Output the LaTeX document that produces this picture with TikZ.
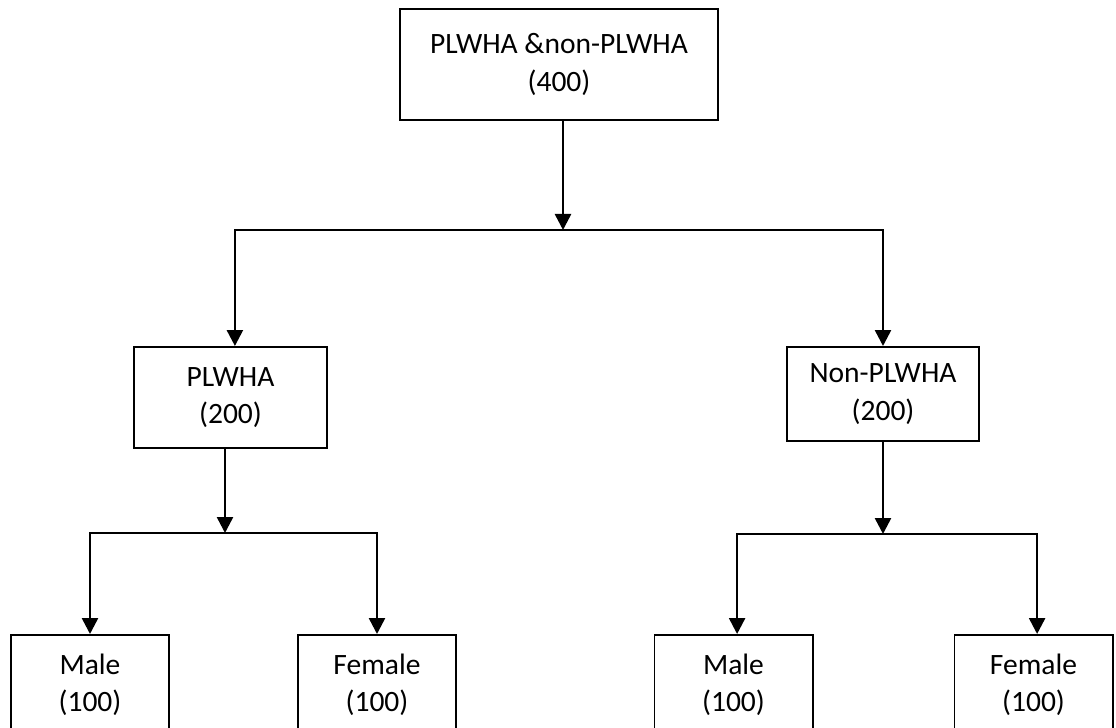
\documentclass[tikz,border=0pt]{standalone}
\usepackage{fontspec}
\setmainfont{Carlito}
\usetikzlibrary{arrows.meta, positioning}

\begin{document}
\begin{tikzpicture}[
    x=0.025cm, y=-0.025cm,
    box/.style={rectangle, draw=black, line width=1.4pt, inner sep=0pt, align=center, font=\fontsize{21}{26.5}\selectfont},
    sexbox/.style={box, minimum width=3.95cm, minimum height=2.5cm},
    arrow/.style={-{Triangle[width=0.4cm, length=0.4cm]}, line width=1.8pt}
]
\clip (0,0) rectangle (1116,728);

\node[box, minimum width=7.95cm, minimum height=2.775cm] (all) at (559,64.5) {PLWHA \&non-PLWHA\\(400)};
\node[box, minimum width=4.825cm, minimum height=2.525cm] (plwha) at (230.5,397.5) {PLWHA\\(200)};
\node[box, minimum width=4.8cm, minimum height=2.35cm] (nonplwha) at (883,394) {Non-PLWHA\\(200)};
\node[sexbox] (male1) at (90,685) {Male\\(100)};
\node[sexbox] (female1) at (377,685) {Female\\(100)};
\node[sexbox] (male2) at (733.5,685) {Male\\(100)};
\node[sexbox] (female2) at (1033.5,685) {Female\\(100)};

\coordinate (split1) at (563,230);
\coordinate (split2) at (225,533);
\coordinate (split3) at (883,534);

\draw[arrow] (all.south -| split1) -- (split1);
\draw[arrow] (split1) -| ([xshift=0.11cm]plwha.north);
\draw[arrow] (split1) -| (nonplwha.north);

\draw[arrow] (plwha.south -| split2) -- (split2);
\draw[arrow] (split2) -| (male1.north);
\draw[arrow] (split2) -| (female1.north);

\draw[arrow] (nonplwha.south) -- (split3);
\draw[arrow] (split3) -| ([xshift=0.09cm]male2.north);
\draw[arrow] (split3) -| ([xshift=0.09cm]female2.north);

\end{tikzpicture}
\end{document}
